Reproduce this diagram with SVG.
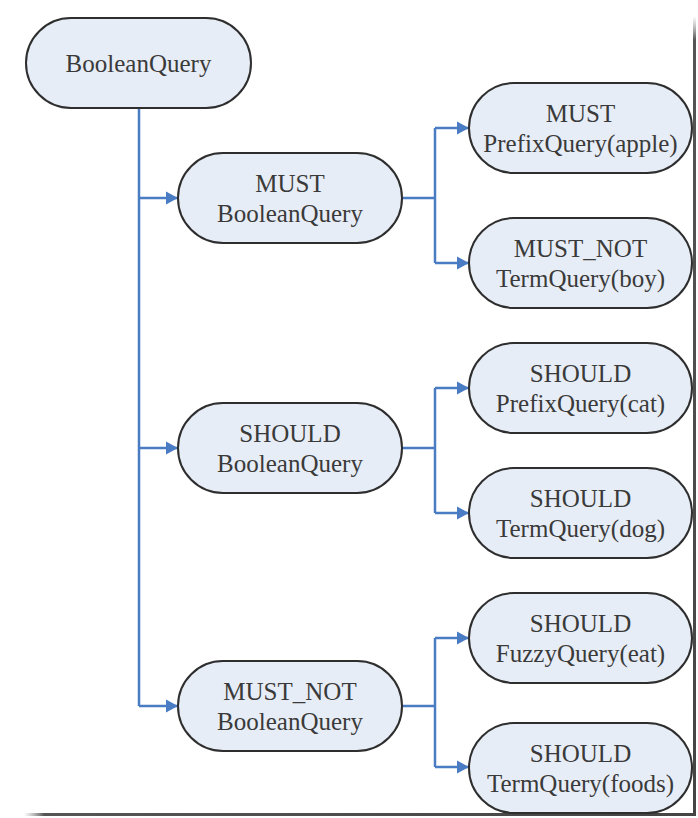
<svg xmlns="http://www.w3.org/2000/svg" width="698" height="818" viewBox="0 0 698 818">
<style>
.node rect{fill:#E7EDF6;stroke:#2E2E2E;stroke-width:2}
.node text{font-size:25px;fill:#3A3A3A;text-anchor:middle}
.conn path{fill:none;stroke:#4A7CC4;stroke-width:2.5}
</style>
<defs>
<marker id="arr" markerUnits="userSpaceOnUse" markerWidth="14" markerHeight="14" refX="12" refY="7" orient="auto">
<path d="M0,0.5 L12,7 L0,13.5 Z" fill="#4A7CC4"/>
</marker>
<linearGradient id="shR" x1="0" y1="0" x2="0" y2="1">
<stop offset="0" stop-color="#888" stop-opacity="0"/>
<stop offset="0.03" stop-color="#555"/>
<stop offset="1" stop-color="#444"/>
</linearGradient>
<linearGradient id="shB" x1="0" y1="0" x2="1" y2="0">
<stop offset="0" stop-color="#888" stop-opacity="0"/>
<stop offset="0.03" stop-color="#555"/>
<stop offset="1" stop-color="#444"/>
</linearGradient>
</defs>
<rect width="698" height="818" fill="#FFFFFF"/>
<g id="frame">
<rect x="693" y="16" width="3" height="800" fill="url(#shR)"/>
<rect x="24" y="813" width="672" height="3" fill="url(#shB)"/>
</g>
<g class="conn" id="connectors">
<path d="M139,108 V706"/>
<path d="M139,198 H178" marker-end="url(#arr)"/>
<path d="M139,448 H178" marker-end="url(#arr)"/>
<path d="M139,706 H178" marker-end="url(#arr)"/>
<path d="M402,198 H435"/>
<path d="M435,128 V263"/>
<path d="M435,128 H469" marker-end="url(#arr)"/>
<path d="M435,263 H469" marker-end="url(#arr)"/>
<path d="M402,448 H435"/>
<path d="M435,388 V513"/>
<path d="M435,388 H469" marker-end="url(#arr)"/>
<path d="M435,513 H469" marker-end="url(#arr)"/>
<path d="M402,706 H435"/>
<path d="M435,638 V767"/>
<path d="M435,638 H469" marker-end="url(#arr)"/>
<path d="M435,767 H469" marker-end="url(#arr)"/>
</g>
<g class="node" id="root" font-family="Liberation Serif, Times New Roman, serif">
<rect x="26" y="18" width="225" height="90" rx="45"/>
<text x="138.5" y="72">BooleanQuery</text>
</g>
<g class="node" id="must-bq" font-family="Liberation Serif, Times New Roman, serif">
<rect x="178" y="153" width="224" height="90" rx="45"/>
<text x="290" y="192">MUST</text>
<text x="290" y="222">BooleanQuery</text>
</g>
<g class="node" id="should-bq" font-family="Liberation Serif, Times New Roman, serif">
<rect x="178" y="403" width="224" height="90" rx="45"/>
<text x="290" y="442">SHOULD</text>
<text x="290" y="472">BooleanQuery</text>
</g>
<g class="node" id="mustnot-bq" font-family="Liberation Serif, Times New Roman, serif">
<rect x="178" y="661" width="224" height="90" rx="45"/>
<text x="290" y="700">MUST_NOT</text>
<text x="290" y="730">BooleanQuery</text>
</g>
<g class="node" id="must-prefix-apple" font-family="Liberation Serif, Times New Roman, serif">
<rect x="469" y="83" width="223" height="90" rx="45"/>
<text x="580.5" y="122">MUST</text>
<text x="580.5" y="152">PrefixQuery(apple)</text>
</g>
<g class="node" id="mustnot-term-boy" font-family="Liberation Serif, Times New Roman, serif">
<rect x="469" y="218" width="223" height="90" rx="45"/>
<text x="580.5" y="257">MUST_NOT</text>
<text x="580.5" y="287">TermQuery(boy)</text>
</g>
<g class="node" id="should-prefix-cat" font-family="Liberation Serif, Times New Roman, serif">
<rect x="469" y="343" width="223" height="90" rx="45"/>
<text x="580.5" y="382">SHOULD</text>
<text x="580.5" y="412">PrefixQuery(cat)</text>
</g>
<g class="node" id="should-term-dog" font-family="Liberation Serif, Times New Roman, serif">
<rect x="469" y="468" width="223" height="90" rx="45"/>
<text x="580.5" y="507">SHOULD</text>
<text x="580.5" y="537">TermQuery(dog)</text>
</g>
<g class="node" id="should-fuzzy-eat" font-family="Liberation Serif, Times New Roman, serif">
<rect x="469" y="593" width="223" height="90" rx="45"/>
<text x="580.5" y="632">SHOULD</text>
<text x="580.5" y="662">FuzzyQuery(eat)</text>
</g>
<g class="node" id="should-term-foods" font-family="Liberation Serif, Times New Roman, serif">
<rect x="469" y="723" width="223" height="90" rx="45"/>
<text x="580.5" y="762">SHOULD</text>
<text x="580.5" y="792">TermQuery(foods)</text>
</g>
</svg>
